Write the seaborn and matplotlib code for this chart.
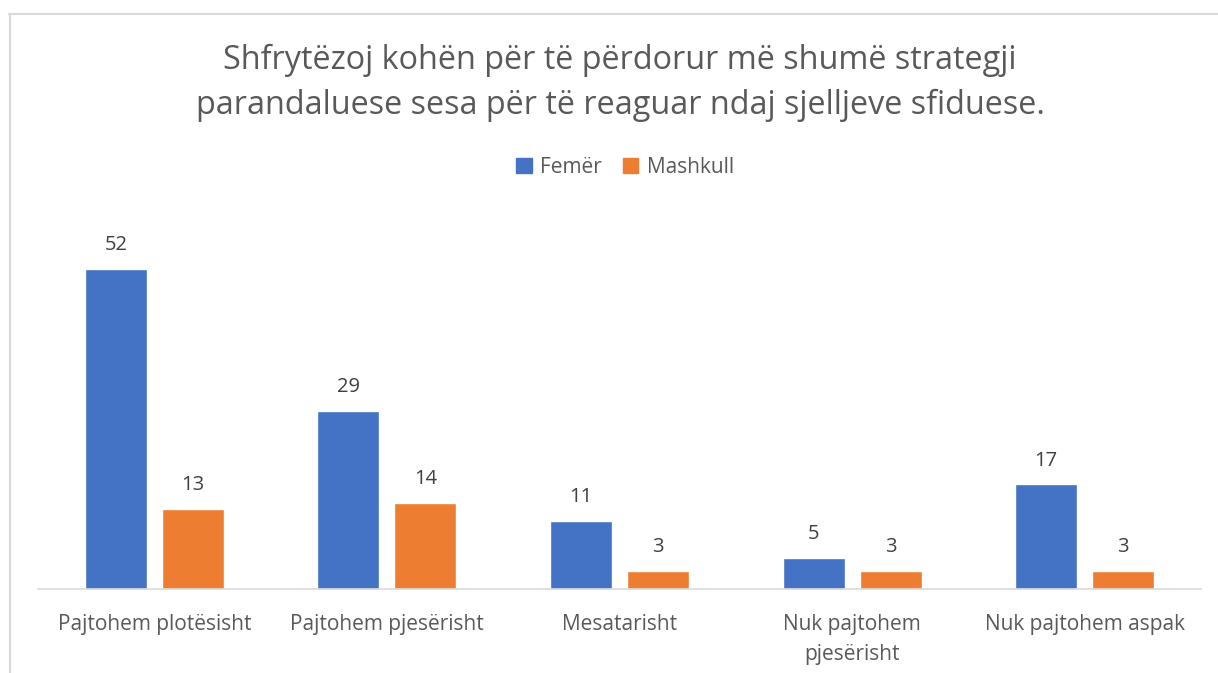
import matplotlib
matplotlib.use("Agg")
import matplotlib.pyplot as plt
import seaborn as sns
import pandas as pd
from matplotlib.lines import Line2D

# chart values
categories = ["Pajtohem plotësisht", "Pajtohem pjesërisht", "Mesatarisht",
              "Nuk pajtohem\npjesërisht", "Nuk pajtohem aspak"]
femer = [52, 29, 11, 5, 17]
mashkull = [13, 14, 3, 3, 3]
series = ["Femër", "Mashkull"]
colors = ["#4472C4", "#ED7D31"]

df = pd.DataFrame({
    "cat": categories * 2,
    "val": femer + mashkull,
    "grp": [series[0]] * len(categories) + [series[1]] * len(categories),
})

sns.set_style("white")
plt.rcParams['font.family'] = ['Open Sans', 'DejaVu Sans']

W, H = 1218, 673
fig = plt.figure(figsize=(W / 100, H / 100), dpi=100)
ax = fig.add_axes([38 / W, 1 - 589 / H, (1201 - 38) / W, (589 - 220) / H])

sns.barplot(data=df, x="cat", y="val", hue="grp", palette=colors,
            width=0.662, gap=0.195, ax=ax, legend=False, saturation=1)

for cont in ax.containers:
    ax.bar_label(cont, padding=10, fontsize=14.5, color="#404040")

ax.set_ylim(0, 60)
ax.set_xlim(-0.5, len(categories) - 0.5)
ax.set_xlabel("")
ax.set_ylabel("")
ax.set_yticks([])
for s in ["top", "left", "right"]:
    ax.spines[s].set_visible(False)
ax.spines["bottom"].set_color("#D9D9D9")
ax.spines["bottom"].set_linewidth(1.2)
ax.tick_params(axis="x", length=0, pad=18, labelsize=15, labelcolor="#595959")
for lbl in ax.get_xticklabels():
    lbl.set_linespacing(1.55)

# title
fig.text(620 / W, 1 - 83 / H,
         "Shfrytëzoj kohën për të përdorur më shumë strategji\n"
         "parandaluese sesa për të reaguar ndaj sjelljeve sfiduese.",
         ha="center", va="center", fontsize=23.3, color="#595959", linespacing=1.45)

# legend
handles = [plt.Rectangle((0, 0), 1, 1, color=c) for c in colors]
fig.legend(handles, series, loc="center", bbox_to_anchor=(625 / W, 1 - 167 / H),
           ncol=2, frameon=False, fontsize=15, handlelength=0.75, handleheight=0.75,
           handletextpad=0.4, columnspacing=1.0, labelcolor="#595959")

# chart border
fig.add_artist(Line2D([9 / W, 1.0], [1 - 13.5 / H] * 2, color="#D9D9D9", lw=1.5))
fig.add_artist(Line2D([9.5 / W] * 2, [0, 1 - 13.5 / H], color="#D9D9D9", lw=1.5))

fig.savefig("out.png", dpi=100)
